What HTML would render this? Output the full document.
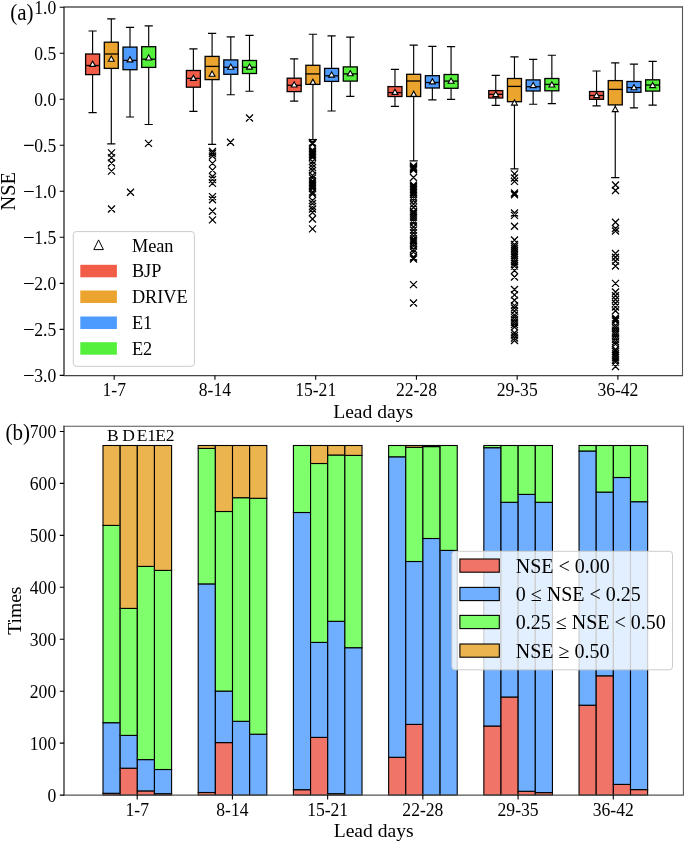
<!DOCTYPE html>
<html><head><meta charset="utf-8"><style>
html,body{margin:0;padding:0;background:#fff;width:685px;height:843px;overflow:hidden}
svg text{font-family:"Liberation Serif",serif;fill:#000}
</style></head><body>
<svg width="685" height="843" viewBox="0 0 685 843" style="position:absolute;left:0;top:0;will-change:transform">
<rect x="0" y="0" width="685" height="843" fill="#fff"/>
<path d="M92.60 31.00V54.00M92.60 74.60V112.60M88.50 31.00H96.70M88.50 112.60H96.70M111.30 18.90V42.20M111.30 68.40V143.90M107.20 18.90H115.40M107.20 143.90H115.40M130.00 27.30V47.10M130.00 69.70V117.00M125.90 27.30H134.10M125.90 117.00H134.10M148.70 25.80V46.70M148.70 67.40V124.50M144.60 25.80H152.80M144.60 124.50H152.80M193.39 48.80V70.50M193.39 87.20V111.30M189.29 48.80H197.49M189.29 111.30H197.49M212.09 33.40V56.40M212.09 79.60V144.30M207.99 33.40H216.19M207.99 144.30H216.19M230.79 36.90V59.90M230.79 74.30V94.70M226.69 36.90H234.89M226.69 94.70H234.89M249.49 35.40V60.50M249.49 73.50V91.20M245.39 35.40H253.59M245.39 91.20H253.59M294.18 58.80V78.20M294.18 91.60V101.10M290.08 58.80H298.28M290.08 101.10H298.28M312.88 34.20V65.30M312.88 84.40V139.60M308.78 34.20H316.98M308.78 139.60H316.98M331.58 35.80V68.40M331.58 81.40V111.00M327.48 35.80H335.68M327.48 111.00H335.68M350.28 37.10V66.90M350.28 81.10V96.40M346.18 37.10H354.38M346.18 96.40H354.38M394.97 69.30V86.60M394.97 96.50V106.35M390.87 69.30H399.07M390.87 106.35H399.07M413.67 45.10V74.30M413.67 96.50V160.90M409.57 45.10H417.77M409.57 160.90H417.77M432.37 46.30V75.70M432.37 88.00V99.90M428.27 46.30H436.47M428.27 99.90H436.47M451.07 46.60V74.50M451.07 88.30V99.30M446.97 46.60H455.17M446.97 99.30H455.17M495.76 75.40V90.60M495.76 98.00V105.40M491.66 75.40H499.86M491.66 105.40H499.86M514.46 56.90V78.50M514.46 101.70V168.90M510.36 56.90H518.56M510.36 168.90H518.56M533.16 59.30V79.90M533.16 91.00V104.20M529.06 59.30H537.26M529.06 104.20H537.26M551.86 55.20V78.50M551.86 90.80V103.60M547.76 55.20H555.96M547.76 103.60H555.96M596.55 71.00V91.50M596.55 99.30V105.80M592.45 71.00H600.65M592.45 105.80H600.65M615.25 62.85V80.60M615.25 104.90V177.60M611.15 62.85H619.35M611.15 177.60H619.35M633.95 64.20V81.50M633.95 92.30V107.80M629.85 64.20H638.05M629.85 107.80H638.05M652.65 61.30V79.80M652.65 91.10V105.10M648.55 61.30H656.75M648.55 105.10H656.75" stroke="#000" stroke-width="1.15" fill="none"/>
<rect x="85.60" y="54.00" width="14.00" height="20.60" fill="#F25D48" stroke="#000" stroke-width="1.3"/>
<path d="M85.60 65.50H99.60" stroke="#000" stroke-width="1.3"/>
<rect x="104.30" y="42.20" width="14.00" height="26.20" fill="#EBA42D" stroke="#000" stroke-width="1.3"/>
<path d="M104.30 54.00H118.30" stroke="#000" stroke-width="1.3"/>
<rect x="123.00" y="47.10" width="14.00" height="22.60" fill="#4E9BFF" stroke="#000" stroke-width="1.3"/>
<path d="M123.00 60.40H137.00" stroke="#000" stroke-width="1.3"/>
<rect x="141.70" y="46.70" width="14.00" height="20.70" fill="#55F03C" stroke="#000" stroke-width="1.3"/>
<path d="M141.70 59.20H155.70" stroke="#000" stroke-width="1.3"/>
<rect x="186.39" y="70.50" width="14.00" height="16.70" fill="#F25D48" stroke="#000" stroke-width="1.3"/>
<path d="M186.39 78.40H200.39" stroke="#000" stroke-width="1.3"/>
<rect x="205.09" y="56.40" width="14.00" height="23.20" fill="#EBA42D" stroke="#000" stroke-width="1.3"/>
<path d="M205.09 66.40H219.09" stroke="#000" stroke-width="1.3"/>
<rect x="223.79" y="59.90" width="14.00" height="14.40" fill="#4E9BFF" stroke="#000" stroke-width="1.3"/>
<path d="M223.79 67.30H237.79" stroke="#000" stroke-width="1.3"/>
<rect x="242.49" y="60.50" width="14.00" height="13.00" fill="#55F03C" stroke="#000" stroke-width="1.3"/>
<path d="M242.49 67.30H256.49" stroke="#000" stroke-width="1.3"/>
<rect x="287.18" y="78.20" width="14.00" height="13.40" fill="#F25D48" stroke="#000" stroke-width="1.3"/>
<path d="M287.18 85.30H301.18" stroke="#000" stroke-width="1.3"/>
<rect x="305.88" y="65.30" width="14.00" height="19.10" fill="#EBA42D" stroke="#000" stroke-width="1.3"/>
<path d="M305.88 73.90H319.88" stroke="#000" stroke-width="1.3"/>
<rect x="324.58" y="68.40" width="14.00" height="13.00" fill="#4E9BFF" stroke="#000" stroke-width="1.3"/>
<path d="M324.58 75.80H338.58" stroke="#000" stroke-width="1.3"/>
<rect x="343.28" y="66.90" width="14.00" height="14.20" fill="#55F03C" stroke="#000" stroke-width="1.3"/>
<path d="M343.28 73.90H357.28" stroke="#000" stroke-width="1.3"/>
<rect x="387.97" y="86.60" width="14.00" height="9.90" fill="#F25D48" stroke="#000" stroke-width="1.3"/>
<path d="M387.97 92.60H401.97" stroke="#000" stroke-width="1.3"/>
<rect x="406.67" y="74.30" width="14.00" height="22.20" fill="#EBA42D" stroke="#000" stroke-width="1.3"/>
<path d="M406.67 81.00H420.67" stroke="#000" stroke-width="1.3"/>
<rect x="425.37" y="75.70" width="14.00" height="12.30" fill="#4E9BFF" stroke="#000" stroke-width="1.3"/>
<path d="M425.37 82.50H439.37" stroke="#000" stroke-width="1.3"/>
<rect x="444.07" y="74.50" width="14.00" height="13.80" fill="#55F03C" stroke="#000" stroke-width="1.3"/>
<path d="M444.07 81.10H458.07" stroke="#000" stroke-width="1.3"/>
<rect x="488.76" y="90.60" width="14.00" height="7.40" fill="#F25D48" stroke="#000" stroke-width="1.3"/>
<path d="M488.76 94.30H502.76" stroke="#000" stroke-width="1.3"/>
<rect x="507.46" y="78.50" width="14.00" height="23.20" fill="#EBA42D" stroke="#000" stroke-width="1.3"/>
<path d="M507.46 86.40H521.46" stroke="#000" stroke-width="1.3"/>
<rect x="526.16" y="79.90" width="14.00" height="11.10" fill="#4E9BFF" stroke="#000" stroke-width="1.3"/>
<path d="M526.16 86.70H540.16" stroke="#000" stroke-width="1.3"/>
<rect x="544.86" y="78.50" width="14.00" height="12.30" fill="#55F03C" stroke="#000" stroke-width="1.3"/>
<path d="M544.86 84.40H558.86" stroke="#000" stroke-width="1.3"/>
<rect x="589.55" y="91.50" width="14.00" height="7.80" fill="#F25D48" stroke="#000" stroke-width="1.3"/>
<path d="M589.55 95.50H603.55" stroke="#000" stroke-width="1.3"/>
<rect x="608.25" y="80.60" width="14.00" height="24.30" fill="#EBA42D" stroke="#000" stroke-width="1.3"/>
<path d="M608.25 89.40H622.25" stroke="#000" stroke-width="1.3"/>
<rect x="626.95" y="81.50" width="14.00" height="10.80" fill="#4E9BFF" stroke="#000" stroke-width="1.3"/>
<path d="M626.95 87.60H640.95" stroke="#000" stroke-width="1.3"/>
<rect x="645.65" y="79.80" width="14.00" height="11.30" fill="#55F03C" stroke="#000" stroke-width="1.3"/>
<path d="M645.65 85.00H659.65" stroke="#000" stroke-width="1.3"/>
<path d="M108.00 149.40L115.00 156.40M108.00 156.40L115.00 149.40M108.00 154.10L115.00 161.10M108.00 161.10L115.00 154.10M108.00 159.50L115.00 166.50M108.00 166.50L115.00 159.50M108.00 167.60L115.00 174.60M108.00 174.60L115.00 167.60M108.00 205.50L115.00 212.50M108.00 212.50L115.00 205.50M127.00 188.80L134.00 195.80M127.00 195.80L134.00 188.80M145.00 139.90L152.00 146.90M145.00 146.90L152.00 139.90M209.00 148.00L216.00 155.00M209.00 155.00L216.00 148.00M209.00 150.00L216.00 157.00M209.00 157.00L216.00 150.00M209.00 152.50L216.00 159.50M209.00 159.50L216.00 152.50M209.00 159.90L216.00 166.90M209.00 166.90L216.00 159.90M209.00 166.60L216.00 173.60M209.00 173.60L216.00 166.60M209.00 173.00L216.00 180.00M209.00 180.00L216.00 173.00M209.00 176.00L216.00 183.00M209.00 183.00L216.00 176.00M209.00 179.90L216.00 186.90M209.00 186.90L216.00 179.90M209.00 193.10L216.00 200.10M209.00 200.10L216.00 193.10M209.00 196.30L216.00 203.30M209.00 203.30L216.00 196.30M209.00 207.80L216.00 214.80M209.00 214.80L216.00 207.80M209.00 216.40L216.00 223.40M209.00 223.40L216.00 216.40M227.00 138.80L234.00 145.80M227.00 145.80L234.00 138.80M246.00 114.50L253.00 121.50M246.00 121.50L253.00 114.50M309.00 139.00L316.00 146.00M309.00 146.00L316.00 139.00M309.00 140.50L316.00 147.50M309.00 147.50L316.00 140.50M309.00 146.50L316.00 153.50M309.00 153.50L316.00 146.50M309.00 148.00L316.00 155.00M309.00 155.00L316.00 148.00M309.00 149.50L316.00 156.50M309.00 156.50L316.00 149.50M309.00 151.00L316.00 158.00M309.00 158.00L316.00 151.00M309.00 152.50L316.00 159.50M309.00 159.50L316.00 152.50M309.00 154.00L316.00 161.00M309.00 161.00L316.00 154.00M309.00 158.00L316.00 165.00M309.00 165.00L316.00 158.00M309.00 161.00L316.00 168.00M309.00 168.00L316.00 161.00M309.00 164.00L316.00 171.00M309.00 171.00L316.00 164.00M309.00 167.00L316.00 174.00M309.00 174.00L316.00 167.00M309.00 172.00L316.00 179.00M309.00 179.00L316.00 172.00M309.00 174.50L316.00 181.50M309.00 181.50L316.00 174.50M309.00 177.50L316.00 184.50M309.00 184.50L316.00 177.50M309.00 179.00L316.00 186.00M309.00 186.00L316.00 179.00M309.00 180.50L316.00 187.50M309.00 187.50L316.00 180.50M309.00 182.00L316.00 189.00M309.00 189.00L316.00 182.00M309.00 183.50L316.00 190.50M309.00 190.50L316.00 183.50M309.00 185.00L316.00 192.00M309.00 192.00L316.00 185.00M309.00 188.50L316.00 195.50M309.00 195.50L316.00 188.50M309.00 190.50L316.00 197.50M309.00 197.50L316.00 190.50M309.00 197.00L316.00 204.00M309.00 204.00L316.00 197.00M309.00 200.00L316.00 207.00M309.00 207.00L316.00 200.00M309.00 203.00L316.00 210.00M309.00 210.00L316.00 203.00M309.00 205.50L316.00 212.50M309.00 212.50L316.00 205.50M309.00 209.00L316.00 216.00M309.00 216.00L316.00 209.00M309.00 215.50L316.00 222.50M309.00 222.50L316.00 215.50M309.00 225.40L316.00 232.40M309.00 232.40L316.00 225.40M410.00 162.50L417.00 169.50M410.00 169.50L417.00 162.50M410.00 163.50L417.00 170.50M410.00 170.50L417.00 163.50M410.00 164.50L417.00 171.50M410.00 171.50L417.00 164.50M410.00 165.50L417.00 172.50M410.00 172.50L417.00 165.50M410.00 166.50L417.00 173.50M410.00 173.50L417.00 166.50M410.00 174.00L417.00 181.00M410.00 181.00L417.00 174.00M410.00 181.50L417.00 188.50M410.00 188.50L417.00 181.50M410.00 183.00L417.00 190.00M410.00 190.00L417.00 183.00M410.00 184.50L417.00 191.50M410.00 191.50L417.00 184.50M410.00 186.00L417.00 193.00M410.00 193.00L417.00 186.00M410.00 187.50L417.00 194.50M410.00 194.50L417.00 187.50M410.00 189.00L417.00 196.00M410.00 196.00L417.00 189.00M410.00 190.50L417.00 197.50M410.00 197.50L417.00 190.50M410.00 192.50L417.00 199.50M410.00 199.50L417.00 192.50M410.00 194.50L417.00 201.50M410.00 201.50L417.00 194.50M410.00 197.00L417.00 204.00M410.00 204.00L417.00 197.00M410.00 200.50L417.00 207.50M410.00 207.50L417.00 200.50M410.00 204.00L417.00 211.00M410.00 211.00L417.00 204.00M410.00 208.00L417.00 215.00M410.00 215.00L417.00 208.00M410.00 209.50L417.00 216.50M410.00 216.50L417.00 209.50M410.00 211.50L417.00 218.50M410.00 218.50L417.00 211.50M410.00 213.50L417.00 220.50M410.00 220.50L417.00 213.50M410.00 215.50L417.00 222.50M410.00 222.50L417.00 215.50M410.00 217.50L417.00 224.50M410.00 224.50L417.00 217.50M410.00 219.50L417.00 226.50M410.00 226.50L417.00 219.50M410.00 223.50L417.00 230.50M410.00 230.50L417.00 223.50M410.00 226.50L417.00 233.50M410.00 233.50L417.00 226.50M410.00 229.50L417.00 236.50M410.00 236.50L417.00 229.50M410.00 232.50L417.00 239.50M410.00 239.50L417.00 232.50M410.00 235.50L417.00 242.50M410.00 242.50L417.00 235.50M410.00 237.00L417.00 244.00M410.00 244.00L417.00 237.00M410.00 238.50L417.00 245.50M410.00 245.50L417.00 238.50M410.00 240.50L417.00 247.50M410.00 247.50L417.00 240.50M410.00 242.50L417.00 249.50M410.00 249.50L417.00 242.50M410.00 246.00L417.00 253.00M410.00 253.00L417.00 246.00M410.00 248.50L417.00 255.50M410.00 255.50L417.00 248.50M410.00 253.50L417.00 260.50M410.00 260.50L417.00 253.50M410.00 254.50L417.00 261.50M410.00 261.50L417.00 254.50M410.00 255.50L417.00 262.50M410.00 262.50L417.00 255.50M410.00 281.10L417.00 288.10M410.00 288.10L417.00 281.10M410.00 299.50L417.00 306.50M410.00 306.50L417.00 299.50M511.00 170.40L518.00 177.40M511.00 177.40L518.00 170.40M511.00 174.50L518.00 181.50M511.00 181.50L518.00 174.50M511.00 177.90L518.00 184.90M511.00 184.90L518.00 177.90M511.00 189.50L518.00 196.50M511.00 196.50L518.00 189.50M511.00 191.20L518.00 198.20M511.00 198.20L518.00 191.20M511.00 209.50L518.00 216.50M511.00 216.50L518.00 209.50M511.00 211.90L518.00 218.90M511.00 218.90L518.00 211.90M511.00 222.70L518.00 229.70M511.00 229.70L518.00 222.70M511.00 236.50L518.00 243.50M511.00 243.50L518.00 236.50M511.00 241.00L518.00 248.00M511.00 248.00L518.00 241.00M511.00 243.15L518.00 250.15M511.00 250.15L518.00 243.15M511.00 245.30L518.00 252.30M511.00 252.30L518.00 245.30M511.00 247.45L518.00 254.45M511.00 254.45L518.00 247.45M511.00 249.60L518.00 256.60M511.00 256.60L518.00 249.60M511.00 251.75L518.00 258.75M511.00 258.75L518.00 251.75M511.00 253.90L518.00 260.90M511.00 260.90L518.00 253.90M511.00 256.05L518.00 263.05M511.00 263.05L518.00 256.05M511.00 258.20L518.00 265.20M511.00 265.20L518.00 258.20M511.00 260.35L518.00 267.35M511.00 267.35L518.00 260.35M511.00 262.50L518.00 269.50M511.00 269.50L518.00 262.50M511.00 267.00L518.00 274.00M511.00 274.00L518.00 267.00M511.00 273.50L518.00 280.50M511.00 280.50L518.00 273.50M511.00 286.00L518.00 293.00M511.00 293.00L518.00 286.00M511.00 291.38L518.00 298.38M511.00 298.38L518.00 291.38M511.00 296.75L518.00 303.75M511.00 303.75L518.00 296.75M511.00 302.12L518.00 309.12M511.00 309.12L518.00 302.12M511.00 307.50L518.00 314.50M511.00 314.50L518.00 307.50M511.00 304.50L518.00 311.50M511.00 311.50L518.00 304.50M511.00 311.50L518.00 318.50M511.00 318.50L518.00 311.50M511.00 313.90L518.00 320.90M511.00 320.90L518.00 313.90M511.00 316.30L518.00 323.30M511.00 323.30L518.00 316.30M511.00 318.70L518.00 325.70M511.00 325.70L518.00 318.70M511.00 321.10L518.00 328.10M511.00 328.10L518.00 321.10M511.00 323.50L518.00 330.50M511.00 330.50L518.00 323.50M511.00 329.50L518.00 336.50M511.00 336.50L518.00 329.50M511.00 332.00L518.00 339.00M511.00 339.00L518.00 332.00M511.00 334.50L518.00 341.50M511.00 341.50L518.00 334.50M511.00 337.00L518.00 344.00M511.00 344.00L518.00 337.00M612.00 181.50L619.00 188.50M612.00 188.50L619.00 181.50M612.00 187.00L619.00 194.00M612.00 194.00L619.00 187.00M612.00 218.80L619.00 225.80M612.00 225.80L619.00 218.80M612.00 225.00L619.00 232.00M612.00 232.00L619.00 225.00M612.00 227.50L619.00 234.50M612.00 234.50L619.00 227.50M612.00 250.00L619.00 257.00M612.00 257.00L619.00 250.00M612.00 253.70L619.00 260.70M612.00 260.70L619.00 253.70M612.00 257.50L619.00 264.50M612.00 264.50L619.00 257.50M612.00 262.50L619.00 269.50M612.00 269.50L619.00 262.50M612.00 279.90L619.00 286.90M612.00 286.90L619.00 279.90M612.00 288.50L619.00 295.50M612.00 295.50L619.00 288.50M612.00 292.30L619.00 299.30M612.00 299.30L619.00 292.30M612.00 296.00L619.00 303.00M612.00 303.00L619.00 296.00M612.00 299.80L619.00 306.80M612.00 306.80L619.00 299.80M612.00 303.50L619.00 310.50M612.00 310.50L619.00 303.50M612.00 307.30L619.00 314.30M612.00 314.30L619.00 307.30M612.00 314.50L619.00 321.50M612.00 321.50L619.00 314.50M612.00 316.00L619.00 323.00M612.00 323.00L619.00 316.00M612.00 317.50L619.00 324.50M612.00 324.50L619.00 317.50M612.00 322.00L619.00 329.00M612.00 329.00L619.00 322.00M612.00 324.31L619.00 331.31M612.00 331.31L619.00 324.31M612.00 326.62L619.00 333.62M612.00 333.62L619.00 326.62M612.00 328.94L619.00 335.94M612.00 335.94L619.00 328.94M612.00 331.25L619.00 338.25M612.00 338.25L619.00 331.25M612.00 333.56L619.00 340.56M612.00 340.56L619.00 333.56M612.00 335.88L619.00 342.88M612.00 342.88L619.00 335.88M612.00 338.19L619.00 345.19M612.00 345.19L619.00 338.19M612.00 340.50L619.00 347.50M612.00 347.50L619.00 340.50M612.00 346.00L619.00 353.00M612.00 353.00L619.00 346.00M612.00 348.08L619.00 355.08M612.00 355.08L619.00 348.08M612.00 350.17L619.00 357.17M612.00 357.17L619.00 350.17M612.00 352.25L619.00 359.25M612.00 359.25L619.00 352.25M612.00 354.33L619.00 361.33M612.00 361.33L619.00 354.33M612.00 356.42L619.00 363.42M612.00 363.42L619.00 356.42M612.00 358.50L619.00 365.50M612.00 365.50L619.00 358.50M612.00 363.00L619.00 370.00M612.00 370.00L619.00 363.00" stroke="#000" stroke-width="1.3" fill="none"/>
<path d="M92.60 61.20L89.65 66.40L95.55 66.40Z" fill="#fff" stroke="#000" stroke-width="1.1" stroke-linejoin="miter"/>
<path d="M111.30 56.00L108.35 61.20L114.25 61.20Z" fill="#fff" stroke="#000" stroke-width="1.1" stroke-linejoin="miter"/>
<path d="M130.00 56.70L127.05 61.90L132.95 61.90Z" fill="#fff" stroke="#000" stroke-width="1.1" stroke-linejoin="miter"/>
<path d="M148.70 54.80L145.75 60.00L151.65 60.00Z" fill="#fff" stroke="#000" stroke-width="1.1" stroke-linejoin="miter"/>
<path d="M193.39 75.20L190.44 80.40L196.34 80.40Z" fill="#fff" stroke="#000" stroke-width="1.1" stroke-linejoin="miter"/>
<path d="M212.09 71.10L209.14 76.30L215.04 76.30Z" fill="#fff" stroke="#000" stroke-width="1.1" stroke-linejoin="miter"/>
<path d="M230.79 64.10L227.84 69.30L233.74 69.30Z" fill="#fff" stroke="#000" stroke-width="1.1" stroke-linejoin="miter"/>
<path d="M249.49 63.90L246.54 69.10L252.44 69.10Z" fill="#fff" stroke="#000" stroke-width="1.1" stroke-linejoin="miter"/>
<path d="M294.18 81.80L291.23 87.00L297.13 87.00Z" fill="#fff" stroke="#000" stroke-width="1.1" stroke-linejoin="miter"/>
<path d="M312.88 79.20L309.93 84.40L315.83 84.40Z" fill="#fff" stroke="#000" stroke-width="1.1" stroke-linejoin="miter"/>
<path d="M331.58 71.90L328.63 77.10L334.53 77.10Z" fill="#fff" stroke="#000" stroke-width="1.1" stroke-linejoin="miter"/>
<path d="M350.28 70.60L347.33 75.80L353.23 75.80Z" fill="#fff" stroke="#000" stroke-width="1.1" stroke-linejoin="miter"/>
<path d="M394.97 89.20L392.02 94.40L397.92 94.40Z" fill="#fff" stroke="#000" stroke-width="1.1" stroke-linejoin="miter"/>
<path d="M413.67 91.20L410.72 96.40L416.62 96.40Z" fill="#fff" stroke="#000" stroke-width="1.1" stroke-linejoin="miter"/>
<path d="M432.37 78.70L429.42 83.90L435.32 83.90Z" fill="#fff" stroke="#000" stroke-width="1.1" stroke-linejoin="miter"/>
<path d="M451.07 78.10L448.12 83.30L454.02 83.30Z" fill="#fff" stroke="#000" stroke-width="1.1" stroke-linejoin="miter"/>
<path d="M495.76 91.40L492.81 96.60L498.71 96.60Z" fill="#fff" stroke="#000" stroke-width="1.1" stroke-linejoin="miter"/>
<path d="M514.46 99.90L511.51 105.10L517.41 105.10Z" fill="#fff" stroke="#000" stroke-width="1.1" stroke-linejoin="miter"/>
<path d="M533.16 82.40L530.21 87.60L536.11 87.60Z" fill="#fff" stroke="#000" stroke-width="1.1" stroke-linejoin="miter"/>
<path d="M551.86 81.80L548.91 87.00L554.81 87.00Z" fill="#fff" stroke="#000" stroke-width="1.1" stroke-linejoin="miter"/>
<path d="M596.55 92.40L593.60 97.60L599.50 97.60Z" fill="#fff" stroke="#000" stroke-width="1.1" stroke-linejoin="miter"/>
<path d="M615.25 106.40L612.30 111.60L618.20 111.60Z" fill="#fff" stroke="#000" stroke-width="1.1" stroke-linejoin="miter"/>
<path d="M633.95 84.50L631.00 89.70L636.90 89.70Z" fill="#fff" stroke="#000" stroke-width="1.1" stroke-linejoin="miter"/>
<path d="M652.65 82.40L649.70 87.60L655.60 87.60Z" fill="#fff" stroke="#000" stroke-width="1.1" stroke-linejoin="miter"/>
<path d="M64.0 6.5V376.1M63.45 7.0H683.05" stroke="#000" stroke-width="1.1" fill="none"/>
<path d="M682.5 6.5V376.1" stroke="#555" stroke-width="1.1" fill="none"/>
<path d="M63.45 375.6H683.05" stroke="#444" stroke-width="1.1" fill="none"/>
<text transform="translate(56.20 13.87) scale(1 1.11)" text-anchor="end" font-size="17.6">1.0</text>
<text transform="translate(56.20 59.90) scale(1 1.11)" text-anchor="end" font-size="17.6">0.5</text>
<text transform="translate(56.20 105.92) scale(1 1.11)" text-anchor="end" font-size="17.6">0.0</text>
<text transform="translate(56.20 151.94) scale(1 1.11)" text-anchor="end" font-size="17.6">0.5</text>
<text transform="translate(56.20 197.97) scale(1 1.11)" text-anchor="end" font-size="17.6">1.0</text>
<text transform="translate(56.20 243.99) scale(1 1.11)" text-anchor="end" font-size="17.6">1.5</text>
<text transform="translate(56.20 290.02) scale(1 1.11)" text-anchor="end" font-size="17.6">2.0</text>
<text transform="translate(56.20 336.05) scale(1 1.11)" text-anchor="end" font-size="17.6">2.5</text>
<text transform="translate(56.20 382.07) scale(1 1.11)" text-anchor="end" font-size="17.6">3.0</text>
<text transform="translate(114.20 395.80) scale(1 1.11)" text-anchor="middle" font-size="17.6">1-7</text>
<text transform="translate(214.94 395.80) scale(1 1.11)" text-anchor="middle" font-size="17.6">8-14</text>
<text transform="translate(315.68 395.80) scale(1 1.11)" text-anchor="middle" font-size="17.6">15-21</text>
<text transform="translate(416.42 395.80) scale(1 1.11)" text-anchor="middle" font-size="17.6">22-28</text>
<text transform="translate(517.16 395.80) scale(1 1.11)" text-anchor="middle" font-size="17.6">29-35</text>
<text transform="translate(617.90 395.80) scale(1 1.11)" text-anchor="middle" font-size="17.6">36-42</text>
<path d="M59.70 7.20H64.0M59.70 53.23H64.0M59.70 99.25H64.0M59.70 145.27H64.0M59.70 191.30H64.0M59.70 237.32H64.0M59.70 283.35H64.0M59.70 329.38H64.0M59.70 375.40H64.0M114.20 375.4V379.70M214.94 375.4V379.70M315.68 375.4V379.70M416.42 375.4V379.70M517.16 375.4V379.70M617.90 375.4V379.70" stroke="#000" stroke-width="1.1"/>
<path d="M24.1 145.37H33.7M24.1 191.40H33.7M24.1 237.42H33.7M24.1 283.45H33.7M24.1 329.48H33.7M24.1 375.50H33.7" stroke="#000" stroke-width="1.05"/>
<text x="373.20" y="417.6" text-anchor="middle" font-size="19.6">Lead days</text>
<text transform="translate(14.7 191.30) rotate(-90)" text-anchor="middle" font-size="20.3">NSE</text>
<text transform="translate(10.3 19.5) scale(1 1.06)" font-size="21">(a)</text>
<rect x="73.3" y="231.6" width="121.1" height="134.7" rx="3" fill="#fff" fill-opacity="0.8" stroke="#cccccc" stroke-width="1"/>
<path d="M98.6 239.9L93.8 249.6L103.4 249.6Z" fill="#fff" stroke="#000" stroke-width="1"/>
<rect x="80.3" y="264.80" width="36.6" height="12.5" fill="#F25D48"/>
<rect x="80.3" y="290.50" width="36.6" height="12.5" fill="#EBA42D"/>
<rect x="80.3" y="316.50" width="36.6" height="12.5" fill="#4E9BFF"/>
<rect x="80.3" y="342.20" width="36.6" height="12.5" fill="#55F03C"/>
<text x="131.9" y="251.50" font-size="18.3">Mean</text>
<text x="131.9" y="277.30" font-size="18.3">BJP</text>
<text x="131.9" y="303.00" font-size="18.3">DRIVE</text>
<text x="131.9" y="328.80" font-size="18.3">E1</text>
<text x="131.9" y="354.90" font-size="18.3">E2</text>
<rect x="103.00" y="793.30" width="17.15" height="1.80" fill="#F07568" stroke="#000" stroke-width="1.1"/>
<rect x="103.00" y="722.70" width="17.15" height="70.60" fill="#70AEFF" stroke="#000" stroke-width="1.1"/>
<rect x="103.00" y="525.40" width="17.15" height="197.30" fill="#80FF6C" stroke="#000" stroke-width="1.1"/>
<rect x="103.00" y="445.50" width="17.15" height="79.90" fill="#EBB44F" stroke="#000" stroke-width="1.1"/>
<rect x="120.15" y="768.20" width="17.15" height="26.90" fill="#F07568" stroke="#000" stroke-width="1.1"/>
<rect x="120.15" y="735.40" width="17.15" height="32.80" fill="#70AEFF" stroke="#000" stroke-width="1.1"/>
<rect x="120.15" y="608.40" width="17.15" height="127.00" fill="#80FF6C" stroke="#000" stroke-width="1.1"/>
<rect x="120.15" y="445.50" width="17.15" height="162.90" fill="#EBB44F" stroke="#000" stroke-width="1.1"/>
<rect x="137.30" y="790.90" width="17.15" height="4.20" fill="#F07568" stroke="#000" stroke-width="1.1"/>
<rect x="137.30" y="759.60" width="17.15" height="31.30" fill="#70AEFF" stroke="#000" stroke-width="1.1"/>
<rect x="137.30" y="566.40" width="17.15" height="193.20" fill="#80FF6C" stroke="#000" stroke-width="1.1"/>
<rect x="137.30" y="445.50" width="17.15" height="120.90" fill="#EBB44F" stroke="#000" stroke-width="1.1"/>
<rect x="154.45" y="793.70" width="17.15" height="1.40" fill="#F07568" stroke="#000" stroke-width="1.1"/>
<rect x="154.45" y="769.50" width="17.15" height="24.20" fill="#70AEFF" stroke="#000" stroke-width="1.1"/>
<rect x="154.45" y="570.40" width="17.15" height="199.10" fill="#80FF6C" stroke="#000" stroke-width="1.1"/>
<rect x="154.45" y="445.50" width="17.15" height="124.90" fill="#EBB44F" stroke="#000" stroke-width="1.1"/>
<rect x="198.21" y="792.50" width="17.15" height="2.60" fill="#F07568" stroke="#000" stroke-width="1.1"/>
<rect x="198.21" y="583.90" width="17.15" height="208.60" fill="#70AEFF" stroke="#000" stroke-width="1.1"/>
<rect x="198.21" y="448.40" width="17.15" height="135.50" fill="#80FF6C" stroke="#000" stroke-width="1.1"/>
<rect x="198.21" y="445.50" width="17.15" height="2.90" fill="#EBB44F" stroke="#000" stroke-width="1.1"/>
<rect x="215.36" y="742.60" width="17.15" height="52.50" fill="#F07568" stroke="#000" stroke-width="1.1"/>
<rect x="215.36" y="691.10" width="17.15" height="51.50" fill="#70AEFF" stroke="#000" stroke-width="1.1"/>
<rect x="215.36" y="511.50" width="17.15" height="179.60" fill="#80FF6C" stroke="#000" stroke-width="1.1"/>
<rect x="215.36" y="445.50" width="17.15" height="66.00" fill="#EBB44F" stroke="#000" stroke-width="1.1"/>
<rect x="232.51" y="721.30" width="17.15" height="73.80" fill="#70AEFF" stroke="#000" stroke-width="1.1"/>
<rect x="232.51" y="497.70" width="17.15" height="223.60" fill="#80FF6C" stroke="#000" stroke-width="1.1"/>
<rect x="232.51" y="445.50" width="17.15" height="52.20" fill="#EBB44F" stroke="#000" stroke-width="1.1"/>
<rect x="249.66" y="734.20" width="17.15" height="60.90" fill="#70AEFF" stroke="#000" stroke-width="1.1"/>
<rect x="249.66" y="498.30" width="17.15" height="235.90" fill="#80FF6C" stroke="#000" stroke-width="1.1"/>
<rect x="249.66" y="445.50" width="17.15" height="52.80" fill="#EBB44F" stroke="#000" stroke-width="1.1"/>
<rect x="293.42" y="789.70" width="17.15" height="5.40" fill="#F07568" stroke="#000" stroke-width="1.1"/>
<rect x="293.42" y="512.50" width="17.15" height="277.20" fill="#70AEFF" stroke="#000" stroke-width="1.1"/>
<rect x="293.42" y="445.50" width="17.15" height="67.00" fill="#80FF6C" stroke="#000" stroke-width="1.1"/>
<rect x="310.57" y="737.40" width="17.15" height="57.70" fill="#F07568" stroke="#000" stroke-width="1.1"/>
<rect x="310.57" y="642.40" width="17.15" height="95.00" fill="#70AEFF" stroke="#000" stroke-width="1.1"/>
<rect x="310.57" y="463.50" width="17.15" height="178.90" fill="#80FF6C" stroke="#000" stroke-width="1.1"/>
<rect x="310.57" y="445.50" width="17.15" height="18.00" fill="#EBB44F" stroke="#000" stroke-width="1.1"/>
<rect x="327.72" y="793.70" width="17.15" height="1.40" fill="#F07568" stroke="#000" stroke-width="1.1"/>
<rect x="327.72" y="621.30" width="17.15" height="172.40" fill="#70AEFF" stroke="#000" stroke-width="1.1"/>
<rect x="327.72" y="455.00" width="17.15" height="166.30" fill="#80FF6C" stroke="#000" stroke-width="1.1"/>
<rect x="327.72" y="445.50" width="17.15" height="9.50" fill="#EBB44F" stroke="#000" stroke-width="1.1"/>
<rect x="344.87" y="647.70" width="17.15" height="147.40" fill="#70AEFF" stroke="#000" stroke-width="1.1"/>
<rect x="344.87" y="455.40" width="17.15" height="192.30" fill="#80FF6C" stroke="#000" stroke-width="1.1"/>
<rect x="344.87" y="445.50" width="17.15" height="9.90" fill="#EBB44F" stroke="#000" stroke-width="1.1"/>
<rect x="388.63" y="757.30" width="17.15" height="37.80" fill="#F07568" stroke="#000" stroke-width="1.1"/>
<rect x="388.63" y="456.80" width="17.15" height="300.50" fill="#70AEFF" stroke="#000" stroke-width="1.1"/>
<rect x="388.63" y="445.50" width="17.15" height="11.30" fill="#80FF6C" stroke="#000" stroke-width="1.1"/>
<rect x="405.78" y="724.40" width="17.15" height="70.70" fill="#F07568" stroke="#000" stroke-width="1.1"/>
<rect x="405.78" y="561.50" width="17.15" height="162.90" fill="#70AEFF" stroke="#000" stroke-width="1.1"/>
<rect x="405.78" y="447.30" width="17.15" height="114.20" fill="#80FF6C" stroke="#000" stroke-width="1.1"/>
<rect x="405.78" y="445.50" width="17.15" height="1.80" fill="#EBB44F" stroke="#000" stroke-width="1.1"/>
<rect x="422.93" y="538.50" width="17.15" height="256.60" fill="#70AEFF" stroke="#000" stroke-width="1.1"/>
<rect x="422.93" y="446.60" width="17.15" height="91.90" fill="#80FF6C" stroke="#000" stroke-width="1.1"/>
<rect x="422.93" y="445.50" width="17.15" height="1.10" fill="#EBB44F" stroke="#000" stroke-width="1.1"/>
<rect x="440.08" y="550.40" width="17.15" height="244.70" fill="#70AEFF" stroke="#000" stroke-width="1.1"/>
<rect x="440.08" y="445.50" width="17.15" height="104.90" fill="#80FF6C" stroke="#000" stroke-width="1.1"/>
<rect x="483.84" y="726.00" width="17.15" height="69.10" fill="#F07568" stroke="#000" stroke-width="1.1"/>
<rect x="483.84" y="447.70" width="17.15" height="278.30" fill="#70AEFF" stroke="#000" stroke-width="1.1"/>
<rect x="483.84" y="445.50" width="17.15" height="2.20" fill="#80FF6C" stroke="#000" stroke-width="1.1"/>
<rect x="500.99" y="697.00" width="17.15" height="98.10" fill="#F07568" stroke="#000" stroke-width="1.1"/>
<rect x="500.99" y="502.30" width="17.15" height="194.70" fill="#70AEFF" stroke="#000" stroke-width="1.1"/>
<rect x="500.99" y="445.50" width="17.15" height="56.80" fill="#80FF6C" stroke="#000" stroke-width="1.1"/>
<rect x="518.14" y="791.30" width="17.15" height="3.80" fill="#F07568" stroke="#000" stroke-width="1.1"/>
<rect x="518.14" y="494.40" width="17.15" height="296.90" fill="#70AEFF" stroke="#000" stroke-width="1.1"/>
<rect x="518.14" y="445.50" width="17.15" height="48.90" fill="#80FF6C" stroke="#000" stroke-width="1.1"/>
<rect x="535.29" y="792.60" width="17.15" height="2.50" fill="#F07568" stroke="#000" stroke-width="1.1"/>
<rect x="535.29" y="502.30" width="17.15" height="290.30" fill="#70AEFF" stroke="#000" stroke-width="1.1"/>
<rect x="535.29" y="445.50" width="17.15" height="56.80" fill="#80FF6C" stroke="#000" stroke-width="1.1"/>
<rect x="579.05" y="705.20" width="17.15" height="89.90" fill="#F07568" stroke="#000" stroke-width="1.1"/>
<rect x="579.05" y="451.00" width="17.15" height="254.20" fill="#70AEFF" stroke="#000" stroke-width="1.1"/>
<rect x="579.05" y="445.50" width="17.15" height="5.50" fill="#80FF6C" stroke="#000" stroke-width="1.1"/>
<rect x="596.20" y="675.80" width="17.15" height="119.30" fill="#F07568" stroke="#000" stroke-width="1.1"/>
<rect x="596.20" y="492.10" width="17.15" height="183.70" fill="#70AEFF" stroke="#000" stroke-width="1.1"/>
<rect x="596.20" y="445.50" width="17.15" height="46.60" fill="#80FF6C" stroke="#000" stroke-width="1.1"/>
<rect x="613.35" y="784.40" width="17.15" height="10.70" fill="#F07568" stroke="#000" stroke-width="1.1"/>
<rect x="613.35" y="477.50" width="17.15" height="306.90" fill="#70AEFF" stroke="#000" stroke-width="1.1"/>
<rect x="613.35" y="445.50" width="17.15" height="32.00" fill="#80FF6C" stroke="#000" stroke-width="1.1"/>
<rect x="630.50" y="789.60" width="17.15" height="5.50" fill="#F07568" stroke="#000" stroke-width="1.1"/>
<rect x="630.50" y="501.70" width="17.15" height="287.90" fill="#70AEFF" stroke="#000" stroke-width="1.1"/>
<rect x="630.50" y="445.50" width="17.15" height="56.20" fill="#80FF6C" stroke="#000" stroke-width="1.1"/>
<rect x="451.9" y="551.3" width="220.6" height="118.5" rx="3" fill="#fff" fill-opacity="0.8" stroke="#cccccc" stroke-width="1"/>
<rect x="459.9" y="559.00" width="39.4" height="13.2" fill="#F07568" stroke="#000" stroke-width="1.1"/>
<text x="515.8" y="572.60" font-size="20.0">NSE &lt; 0.00</text>
<rect x="459.9" y="587.40" width="39.4" height="13.2" fill="#70AEFF" stroke="#000" stroke-width="1.1"/>
<text x="515.8" y="601.00" font-size="20.0">0 ≤ NSE &lt; 0.25</text>
<rect x="459.9" y="615.40" width="39.4" height="13.2" fill="#80FF6C" stroke="#000" stroke-width="1.1"/>
<text x="515.8" y="629.00" font-size="20.0">0.25 ≤ NSE &lt; 0.50</text>
<rect x="459.9" y="644.00" width="39.4" height="13.2" fill="#EBB44F" stroke="#000" stroke-width="1.1"/>
<text x="515.8" y="657.60" font-size="20.0">NSE ≥ 0.50</text>
<path d="M64.0 425.65V795.65" stroke="#000" stroke-width="1.1" fill="none"/>
<path d="M63.45 426.2H683.95M683.4 425.65V795.65M63.45 795.1H683.95" stroke="#555" stroke-width="1.1" fill="none"/>
<text transform="translate(56.20 801.77) scale(1 1.11)" text-anchor="end" font-size="17.6">0</text>
<text transform="translate(56.20 749.82) scale(1 1.11)" text-anchor="end" font-size="17.6">100</text>
<text transform="translate(56.20 697.87) scale(1 1.11)" text-anchor="end" font-size="17.6">200</text>
<text transform="translate(56.20 645.92) scale(1 1.11)" text-anchor="end" font-size="17.6">300</text>
<text transform="translate(56.20 593.97) scale(1 1.11)" text-anchor="end" font-size="17.6">400</text>
<text transform="translate(56.20 542.02) scale(1 1.11)" text-anchor="end" font-size="17.6">500</text>
<text transform="translate(56.20 490.07) scale(1 1.11)" text-anchor="end" font-size="17.6">600</text>
<text transform="translate(56.20 438.12) scale(1 1.11)" text-anchor="end" font-size="17.6">700</text>
<text transform="translate(137.20 815.60) scale(1 1.11)" text-anchor="middle" font-size="17.6">1-7</text>
<text transform="translate(232.42 815.60) scale(1 1.11)" text-anchor="middle" font-size="17.6">8-14</text>
<text transform="translate(327.64 815.60) scale(1 1.11)" text-anchor="middle" font-size="17.6">15-21</text>
<text transform="translate(422.86 815.60) scale(1 1.11)" text-anchor="middle" font-size="17.6">22-28</text>
<text transform="translate(518.08 815.60) scale(1 1.11)" text-anchor="middle" font-size="17.6">29-35</text>
<text transform="translate(613.30 815.60) scale(1 1.11)" text-anchor="middle" font-size="17.6">36-42</text>
<path d="M59.80 795.10H64.1M59.80 743.15H64.1M59.80 691.20H64.1M59.80 639.25H64.1M59.80 587.30H64.1M59.80 535.35H64.1M59.80 483.40H64.1M59.80 431.45H64.1M137.20 795.1V799.40M232.42 795.1V799.40M327.64 795.1V799.40M422.86 795.1V799.40M518.08 795.1V799.40M613.30 795.1V799.40" stroke="#000" stroke-width="1.1"/>
<text x="373.70" y="837.3" text-anchor="middle" font-size="19.6">Lead days</text>
<text transform="translate(20.7 610.65) rotate(-90)" text-anchor="middle" font-size="19.6">Times</text>
<text transform="translate(5.6 440.1) scale(1 1.06)" font-size="21">(b)</text>
<text x="112.85" y="441.4" text-anchor="middle" font-size="17.5">B</text>
<text x="128.5" y="441.4" text-anchor="middle" font-size="17.5">D</text>
<text x="146.4" y="441.4" text-anchor="middle" font-size="17.5">E1</text>
<text x="164.9" y="441.4" text-anchor="middle" font-size="17.5">E2</text>
</svg>
</body></html>
